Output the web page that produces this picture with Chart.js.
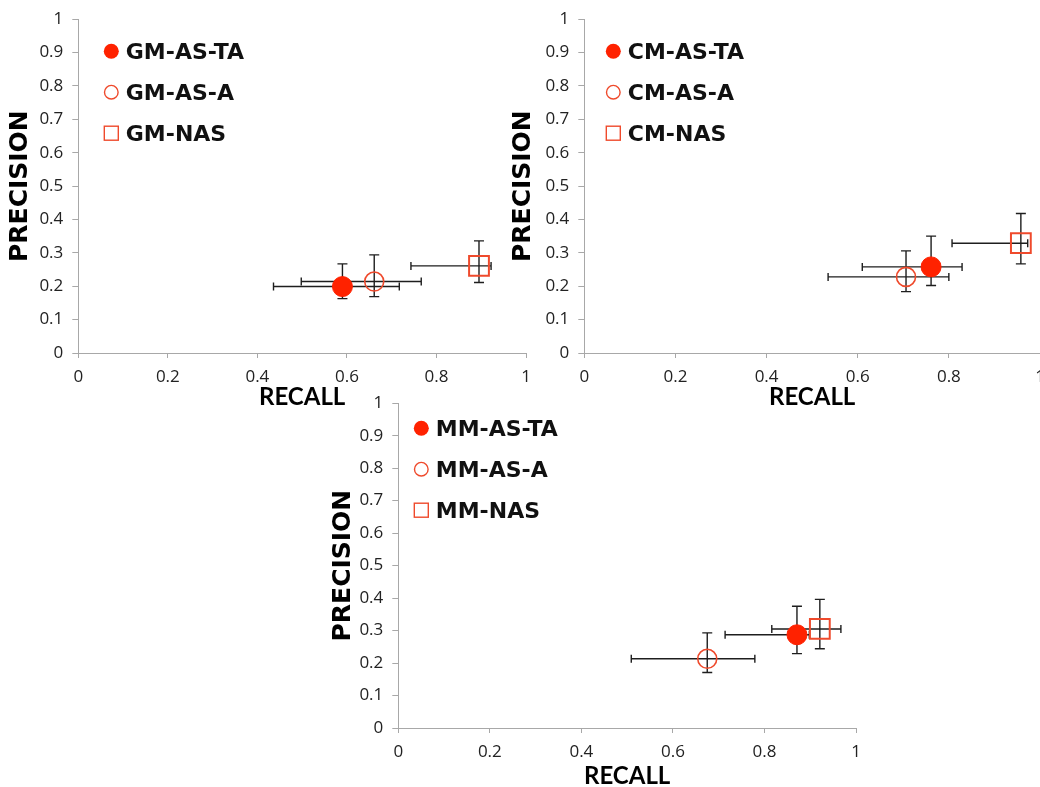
<!DOCTYPE html>
<html>
<head>
<meta charset="utf-8">
<script src="https://cdn.jsdelivr.net/npm/chart.js@4/dist/chart.umd.min.js"></script>
<style>
html, body { margin: 0; padding: 0; width: 1040px; height: 787px; overflow: hidden; background: #fff; }
canvas { position: absolute; }
</style>
</head>
<body>
<canvas id="gm" width="545" height="420" style="left:0;top:0"></canvas>
<canvas id="cm" width="550" height="420" style="left:506px;top:0"></canvas>
<canvas id="mm" width="552" height="410" style="left:320px;top:384px"></canvas>
<script>
// values
const gmNames = ['GM-AS-TA', 'GM-AS-A', 'GM-NAS'];
const gmRecall = [0.590, 0.661, 0.895];
const gmRecallLow = [0.436, 0.498, 0.743];
const gmRecallHigh = [0.717, 0.766, 0.922];
const gmPrecision = [0.199, 0.214, 0.261];
const gmPrecisionLow = [0.163, 0.169, 0.211];
const gmPrecisionHigh = [0.267, 0.294, 0.336];

const cmNames = ['CM-AS-TA', 'CM-AS-A', 'CM-NAS'];
const cmRecall = [0.761, 0.706, 0.958];
const cmRecallLow = [0.610, 0.535, 0.807];
const cmRecallHigh = [0.829, 0.800, 0.973];
const cmPrecision = [0.258, 0.228, 0.329];
const cmPrecisionLow = [0.202, 0.184, 0.267];
const cmPrecisionHigh = [0.350, 0.306, 0.418];

const mmNames = ['MM-AS-TA', 'MM-AS-A', 'MM-NAS'];
const mmRecall = [0.871, 0.675, 0.921];
const mmRecallLow = [0.714, 0.509, 0.816];
const mmRecallHigh = [0.898, 0.779, 0.967];
const mmPrecision = [0.287, 0.213, 0.305];
const mmPrecisionLow = [0.229, 0.171, 0.244];
const mmPrecisionHigh = [0.375, 0.293, 0.396];

const xTickLabels = ['0', '0.2', '0.4', '0.6', '0.8', '1'];
const yTickLabels = ['0', '0.1', '0.2', '0.3', '0.4', '0.5', '0.6', '0.7', '0.8', '0.9', '1'];

const RED = '#ff2200';
const RED_LINE = '#ef4a2c';
const AXIS = '#a8a8a8';

// filled circle, open circle, open square
const markerStyles = [
    { pointStyle: 'circle', pointRadius: 10, backgroundColor: RED, borderColor: RED, borderWidth: 1 },
    { pointStyle: 'circle', pointRadius: 9.5, backgroundColor: 'rgba(0,0,0,0)', borderColor: RED_LINE, borderWidth: 1.6 },
    { pointStyle: 'rect', pointRadius: 14, backgroundColor: 'rgba(0,0,0,0)', borderColor: RED_LINE, borderWidth: 2 },
];

const errorBars = {
    id: 'errorBars',
    beforeDatasetsDraw(chart) {
        const ctx = chart.ctx;
        const xs = chart.scales.x;
        const ys = chart.scales.y;
        ctx.save();
        ctx.strokeStyle = '#1e1e1e';
        ctx.lineWidth = 1.4;
        chart.data.datasets.forEach(ds => {
            const p = ds.data[0];
            const x = xs.getPixelForValue(p.x);
            const y = ys.getPixelForValue(p.y);
            const xl = xs.getPixelForValue(p.xLow);
            const xh = xs.getPixelForValue(p.xHigh);
            const yl = ys.getPixelForValue(p.yLow);
            const yh = ys.getPixelForValue(p.yHigh);
            ctx.beginPath();
            ctx.moveTo(xl, y); ctx.lineTo(xh, y);
            ctx.moveTo(xl, y - 4); ctx.lineTo(xl, y + 4);
            ctx.moveTo(xh, y - 4); ctx.lineTo(xh, y + 4);
            ctx.moveTo(x, yl); ctx.lineTo(x, yh);
            ctx.moveTo(x - 5, yl); ctx.lineTo(x + 5, yl);
            ctx.moveTo(x - 5, yh); ctx.lineTo(x + 5, yh);
            ctx.stroke();
        });
        ctx.restore();
    }
};

const innerLegend = {
    id: 'innerLegend',
    afterDraw(chart, args, opts) {
        const ctx = chart.ctx;
        const area = chart.chartArea;
        ctx.save();
        ctx.font = 'bold 22px "DejaVu Sans"';
        ctx.textBaseline = 'alphabetic';
        chart.data.datasets.forEach((ds, i) => {
            const cx = area.left + opts.dx;
            const cy = area.top + opts.dy + i * 41;
            ctx.lineWidth = 1.4;
            if (i === 0) {
                ctx.fillStyle = RED;
                ctx.beginPath(); ctx.arc(cx, cy, 7.5, 0, Math.PI * 2); ctx.fill();
            } else if (i === 1) {
                ctx.strokeStyle = RED_LINE;
                ctx.beginPath(); ctx.arc(cx, cy, 6.8, 0, Math.PI * 2); ctx.stroke();
            } else {
                ctx.strokeStyle = RED_LINE;
                ctx.strokeRect(cx - 7, cy - 7, 14, 14);
            }
            ctx.fillStyle = '#111';
            ctx.fillText(ds.label, cx + 14.5, cy + 8);
        });
        ctx.restore();
    }
};

function makeChart(id, names, recall, rLow, rHigh, prec, pLow, pHigh, lay) {
    const datasets = names.map((name, i) => Object.assign({
        label: name,
        data: [{ x: recall[i], y: prec[i], xLow: rLow[i], xHigh: rHigh[i], yLow: pLow[i], yHigh: pHigh[i] }],
    }, markerStyles[i]));

    return new Chart(document.getElementById(id).getContext('2d'), {
        type: 'scatter',
        data: { datasets: datasets },
        options: {
            responsive: false,
            animation: false,
            layout: { padding: { left: 0, top: lay.top, right: lay.right, bottom: 0 } },
            plugins: {
                legend: { display: false },
                tooltip: { enabled: false },
                innerLegend: { dx: lay.legendX, dy: lay.legendY },
            },
            scales: {
                x: {
                    type: 'linear', min: 0, max: 1,
                    afterFit: s => { s.height = lay.xHeight; },
                    ticks: {
                        stepSize: 0.2, padding: 9, color: '#222',
                        font: { family: 'Open Sans', size: 17 },
                        callback: (v, i) => xTickLabels[i],
                    },
                    grid: { drawOnChartArea: false, drawTicks: true, tickLength: 5, color: AXIS },
                    border: { color: AXIS, width: 1 },
                    title: {
                        display: true, text: 'RECALL', color: '#000',
                        font: { family: 'Lato', size: 24, weight: 'bold' },
                        padding: { top: 0, bottom: lay.xTitlePad },
                    },
                },
                y: {
                    type: 'linear', min: 0, max: 1,
                    afterFit: s => { s.width = 78.3; },
                    ticks: {
                        stepSize: 0.1, padding: 9, color: '#222',
                        font: { family: 'Open Sans', size: 17 },
                        callback: (v, i) => yTickLabels[i],
                    },
                    grid: { drawOnChartArea: false, drawTicks: true, tickLength: 6, color: AXIS },
                    border: { color: AXIS, width: 1 },
                    title: {
                        display: true, text: 'PRECISION', color: '#000',
                        font: { family: 'DejaVu Sans', size: 25, weight: 'bold' },
                        padding: { top: lay.yTitlePad, bottom: 0 },
                    },
                },
            },
        },
        plugins: [errorBars, innerLegend],
    });
}

makeChart('gm', gmNames, gmRecall, gmRecallLow, gmRecallHigh, gmPrecision, gmPrecisionLow, gmPrecisionHigh,
    { top: 16.5, right: 19, xHeight: 67, xTitlePad: 8, yTitlePad: 5.5, legendX: 33, legendY: 32 });
makeChart('cm', cmNames, cmRecall, cmRecallLow, cmRecallHigh, cmPrecision, cmPrecisionLow, cmPrecisionHigh,
    { top: 16.5, right: 14.7, xHeight: 67, xTitlePad: 8, yTitlePad: 2.5, legendX: 29, legendY: 32 });
makeChart('mm', mmNames, mmRecall, mmRecallLow, mmRecallHigh, mmPrecision, mmPrecisionLow, mmPrecisionHigh,
    { top: 16, right: 14.7, xHeight: 66, xTitlePad: 3, yTitlePad: 8.5, legendX: 23, legendY: 25 });
</script>
</body>
</html>
